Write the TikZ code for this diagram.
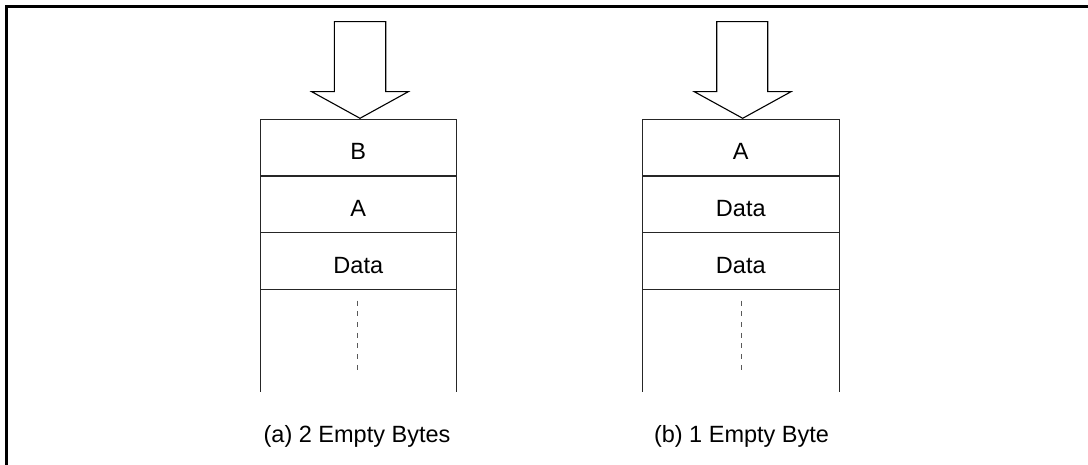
\documentclass[tikz,border=0pt]{standalone}
\usepackage{fontspec}
\setmainfont{Liberation Sans}
\tikzset{
  cell/.style={draw=black!85, line width=1.1pt, minimum width=196.5pt, minimum height=56.7pt,
    inner sep=0pt, outer sep=0pt, text height=24.6pt, text depth=0pt, font=\fontsize{23.5}{27}\selectfont},
  side/.style={draw=black!85, line width=1.1pt},
  dashline/.style={draw=black!65, line width=1.2pt, dash pattern=on 5pt off 5.7pt},
  bigarrow/.style={draw=black, line width=1.1pt, line join=miter},
  caption/.style={anchor=base, inner sep=0pt, font=\fontsize{23.5}{27}\selectfont},
  frame/.style={draw=black, line width=3pt}
}
\begin{document}
\begin{tikzpicture}[x=1pt,y=-1pt]
\useasboundingbox (0,0) rectangle (1088,465);
\fill[white] (0,0) rectangle (1088,465);
% frame (only top and left edges visible)
\draw[frame] (6.5,467) -- (6.5,6.5) -- (1090,6.5);

% left stack
\node[cell] (a1) at (358.3,147.65) {B};
\node[cell] (a2) at (358.3,204.35) {A};
\node[cell] (a3) at (358.3,261.0) {Data};
\draw[side] (a3.south west) -- ++(0,102.7);
\draw[side] (a3.south east) -- ++(0,102.7);
\draw[dashline] (357.7,300.7) -- (357.7,371);
\draw[bigarrow] (334.3,21.7) -- (385.7,21.7) -- (385.7,91.7) -- (408.3,91.7)
  -- (360,118.3) -- (311.7,91.7) -- (334.3,91.7) -- cycle;
\node[caption] (capa) at (357,442.7) {(a) 2 Empty Bytes};

% right stack
\node[cell] (b1) at (740.8,147.65) {A};
\node[cell] (b2) at (740.8,204.35) {Data};
\node[cell] (b3) at (740.8,261.0) {Data};
\draw[side] (b3.south west) -- ++(0,102.7);
\draw[side] (b3.south east) -- ++(0,102.7);
\draw[dashline] (741.5,300.7) -- (741.5,371);
\draw[bigarrow] (716.7,21.7) -- (767.7,21.7) -- (767.7,91.7) -- (791,91.7)
  -- (742.7,118.3) -- (694.3,91.7) -- (716.7,91.7) -- cycle;
\node[caption] (capb) at (741.5,442.7) {(b) 1 Empty Byte};
\end{tikzpicture}
\end{document}
